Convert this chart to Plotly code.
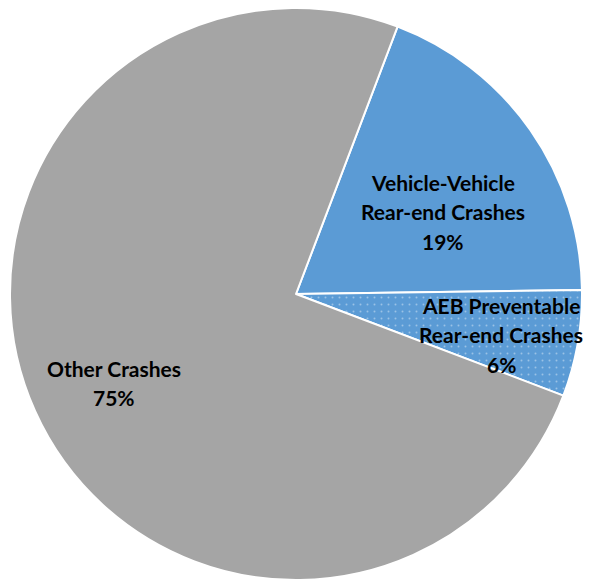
import plotly.graph_objects as go

labels = ["Vehicle-Vehicle Rear-end Crashes", "AEB Preventable Rear-end Crashes", "Other Crashes"]
values = [19, 6, 75]
colors = ["#5B9BD5", "#5B9BD5", "#A5A5A5"]
label_lines = [["Vehicle-Vehicle", "Rear-end Crashes"], ["AEB Preventable", "Rear-end Crashes"], ["Other Crashes"]]

W, H = 590, 580

fig = go.Figure(go.Pie(
    labels=labels,
    values=values,
    sort=False,
    direction="clockwise",
    rotation=20.8,
    textinfo="none",
    hoverinfo="label+percent",
    marker=dict(
        colors=colors,
        line=dict(color="white", width=2),
        pattern=dict(shape=["", ".", ""], fgcolor="#dce9f6", bgcolor=colors, size=7, solidity=0.06, fillmode="overlay"),
    ),
    domain=dict(x=[8 / W, 584 / W], y=[0, 572 / H]),
    showlegend=False,
))

# label text block centres (pixels) and line spacing
centres = [(443, 182), (501, 305), (114, 368)]
spacing = 29.5
total = sum(values)
annotations = []
for lines, v, (cx, cy) in zip(label_lines, values, centres):
    all_lines = lines + [f"{round(100 * v / total)}%"]
    for i, t in enumerate(all_lines):
        y = cy + i * spacing
        annotations.append(dict(
            x=cx / W, y=1 - y / H, xref="paper", yref="paper",
            text=f"<b>{t}</b>", showarrow=False, xanchor="center", yanchor="middle",
            font=dict(family="Lato", size=21, color="#000000"),
        ))

fig.update_layout(
    width=W, height=H,
    margin=dict(l=0, r=0, t=0, b=0),
    paper_bgcolor="white",
    plot_bgcolor="white",
    annotations=annotations,
)

fig.write_html("out.html", config={"displayModeBar": False},
               post_script="document.body.style.margin='0';")
